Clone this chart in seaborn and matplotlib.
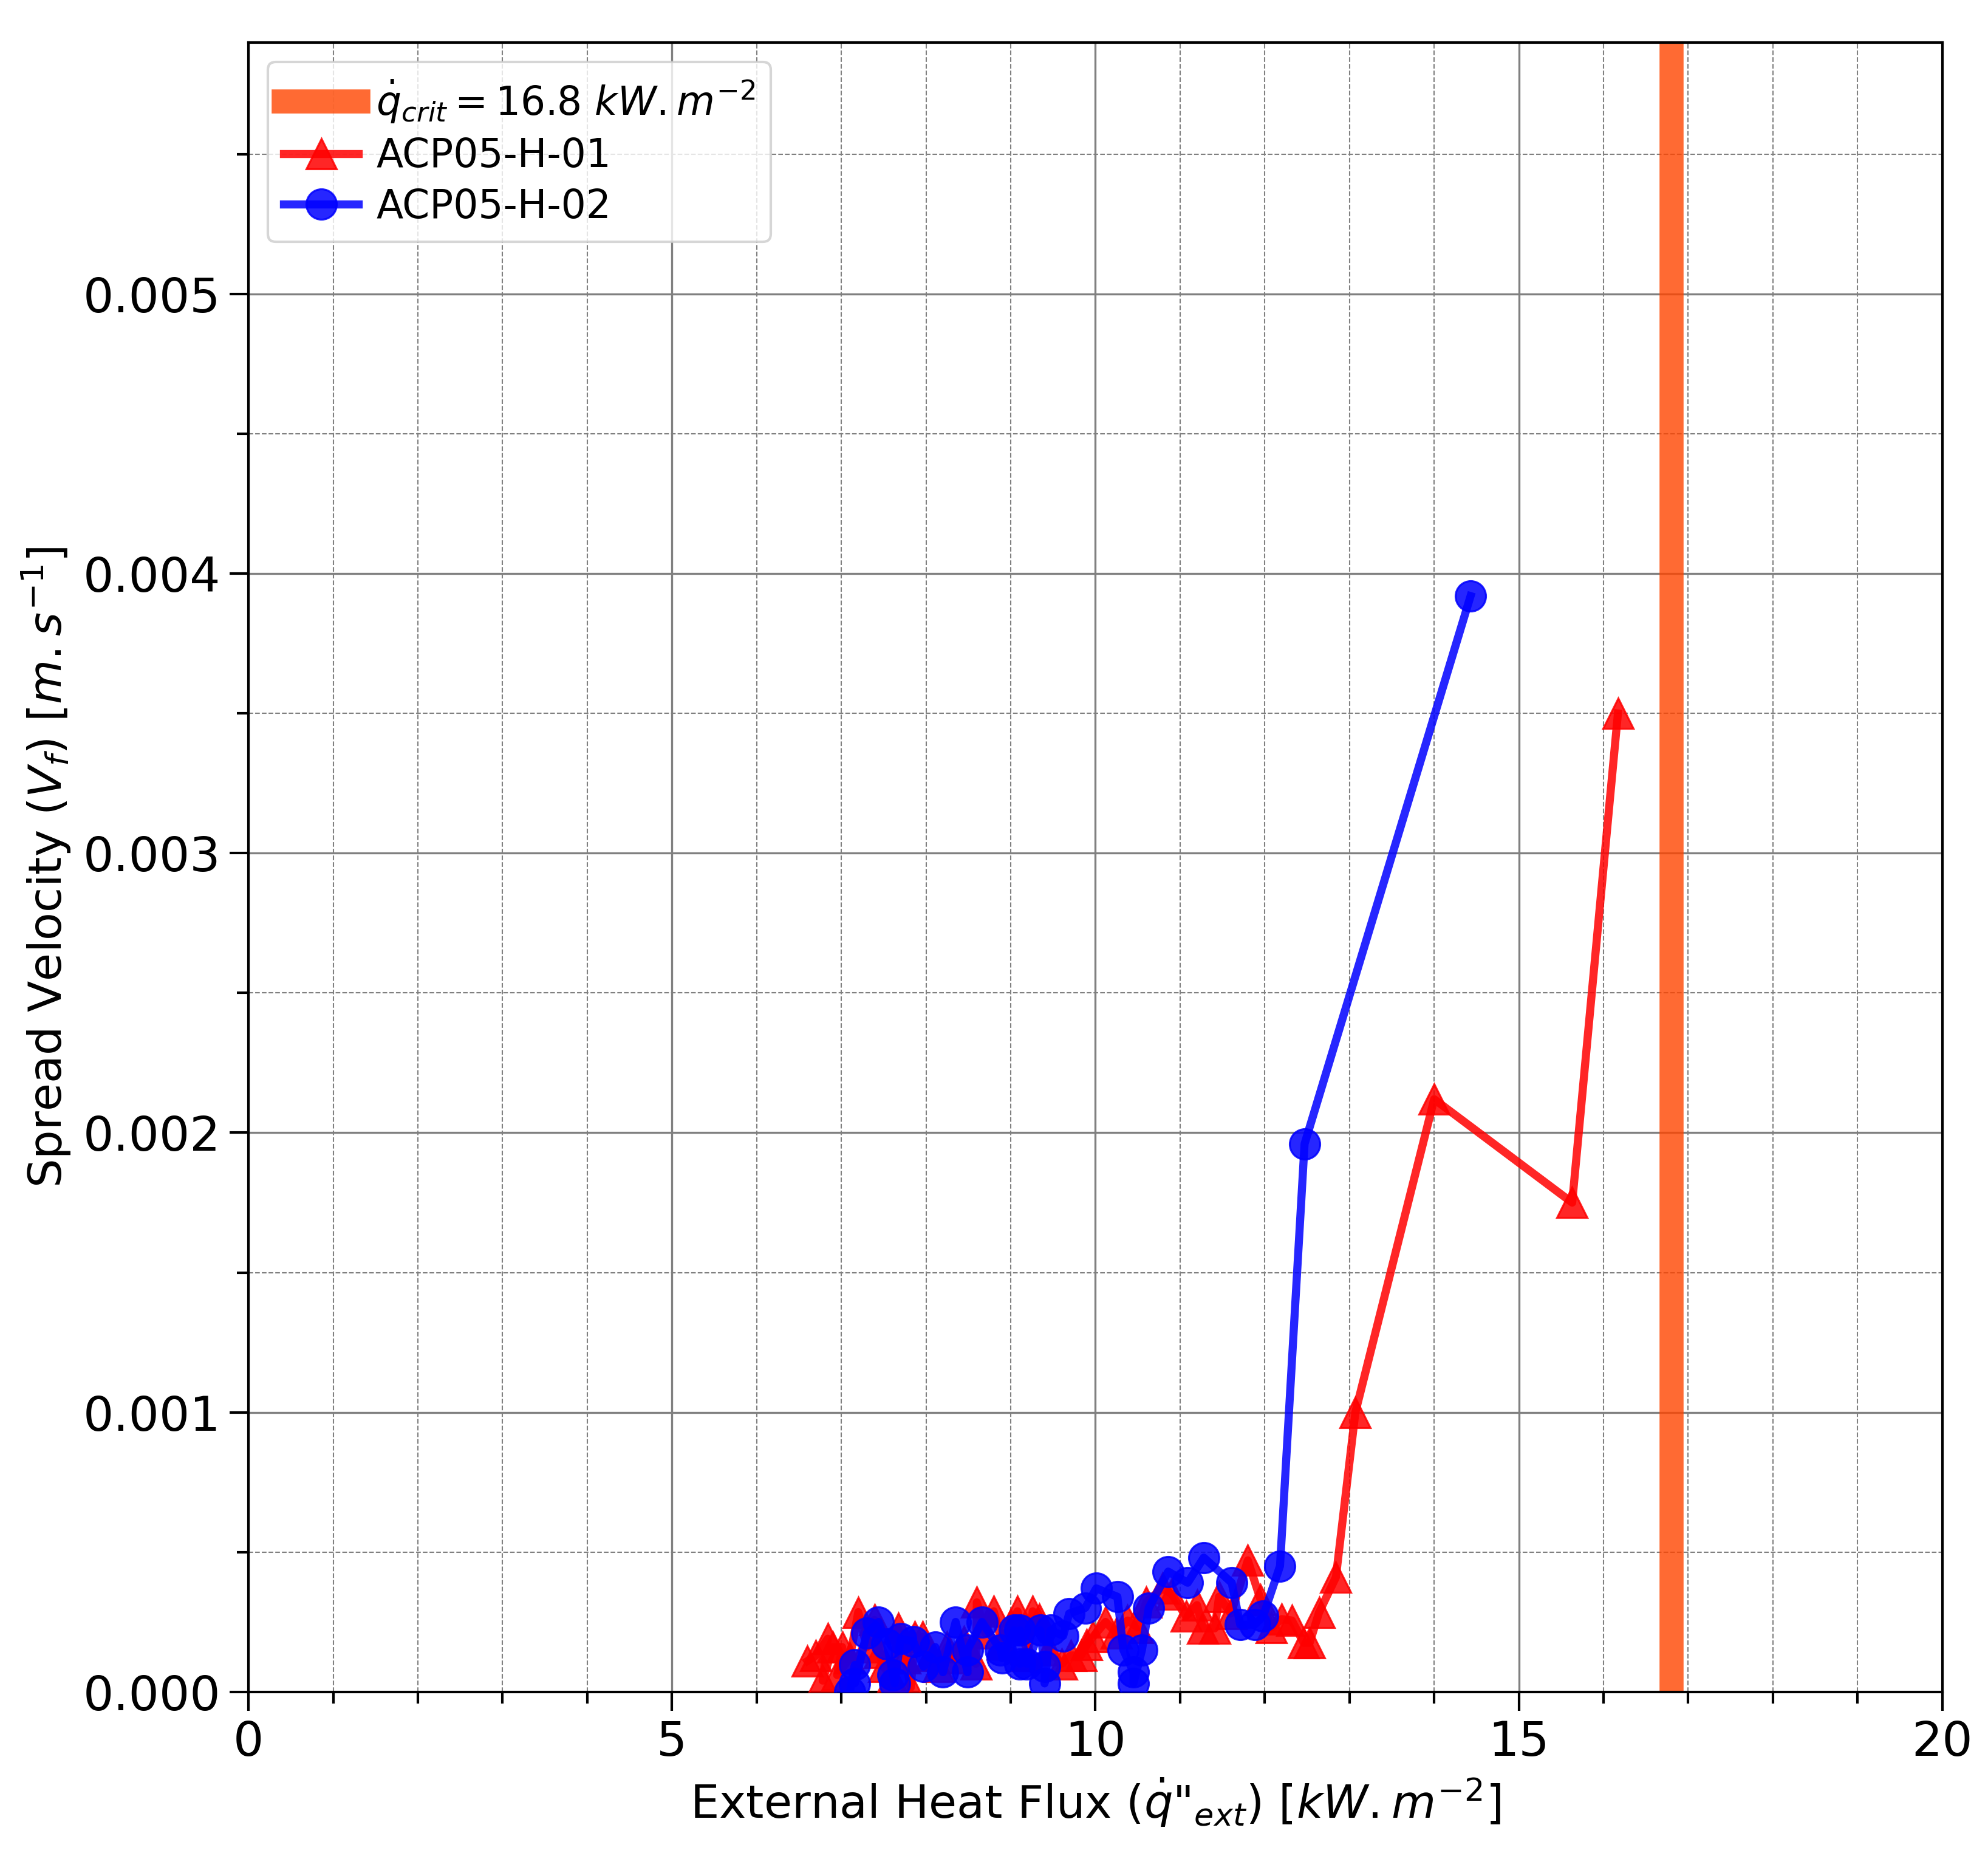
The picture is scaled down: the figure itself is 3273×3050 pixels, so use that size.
import numpy as np
import pandas as pd
import matplotlib
matplotlib.use("Agg")
import matplotlib.pyplot as plt
import seaborn as sns
from matplotlib.ticker import MultipleLocator

# critical heat flux
q_crit = 16.8

# ACP05-H-01 (triangles)
flux_h01 = [6.6, 6.7, 6.84, 6.78, 6.9, 7.01, 6.95, 7.1, 7.2, 7.3, 7.39, 7.45, 7.5, 7.6, 7.67,
            7.75, 7.82, 7.87, 7.96, 8.05, 8.15, 8.25, 8.35, 8.45, 8.59, 8.6, 8.7, 8.8, 8.9,
            9.0, 9.08, 9.2, 9.26, 9.34, 9.45, 9.6, 9.71, 9.83, 9.9, 9.97, 10.12, 10.25,
            10.38, 10.5, 10.6, 10.79, 10.9, 11.07, 11.2, 11.27, 11.41, 11.46, 11.6, 11.8,
            11.95, 12.08, 12.2, 12.32, 12.46, 12.53, 12.64, 12.84, 13.07, 14.0, 15.63, 16.17]
vel_h01 = [0.00011, 0.00013, 0.00019, 0.00004, 0.00016, 0.00016, 0.00006, 0.00012, 0.000285,
           0.00016, 0.000257, 0.00014, 0.00009, 0.00005, 0.000227, 0.00012, 0.000015,
           0.000196, 0.000196, 0.00013, 0.00009, 0.00016, 0.00012, 0.00018, 0.0001, 0.00032,
           0.00021, 0.000288, 0.00017, 0.00024, 0.000288, 0.00013, 0.000288, 0.00026,
           0.00015, 0.0001, 0.00013, 0.00013, 0.000168, 0.000196, 0.00025, 0.00021,
           0.000255, 0.00023, 0.00032, 0.00037, 0.00035, 0.00027, 0.00031, 0.000227,
           0.000227, 0.00034, 0.00028, 0.00047, 0.00033, 0.00023, 0.00026, 0.000255,
           0.000175, 0.000175, 0.000283, 0.00041, 0.001, 0.00212, 0.00175, 0.0035]

# ACP05-H-02 (circles)
flux_h02 = [7.1, 7.16, 7.16, 7.3, 7.44, 7.54, 7.61, 7.63, 7.7, 7.85, 7.97, 8.11, 8.2, 8.35,
            8.49, 8.49, 8.66, 8.88, 8.9, 9.04, 9.11, 9.11, 9.19, 9.35, 9.4, 9.4, 9.47, 9.62,
            9.69, 9.88, 10.01, 10.26, 10.33, 10.45, 10.45, 10.55, 10.63, 10.86, 11.09,
            11.28, 11.61, 11.71, 11.88, 11.98, 12.18, 12.47, 14.43]
vel_h02 = [0.0, 0.000096, 0.00003, 0.00021, 0.00025, 0.00017, 0.00006, 0.00003, 0.00019,
           0.00018, 0.00009, 0.00016, 0.00007, 0.00025, 0.00007, 0.00015, 0.00025, 0.00015,
           0.00012, 0.00022, 0.0001, 0.00022, 0.0001, 0.00022, 0.00009, 0.00003, 0.00022,
           0.0002, 0.00028, 0.0003, 0.00037, 0.00034, 0.00015, 0.00007, 0.00003, 0.00015,
           0.0003, 0.00043, 0.00039, 0.00048, 0.00039, 0.00024, 0.00024, 0.00027, 0.00045,
           0.00196, 0.00392]

df1 = pd.DataFrame({"flux": flux_h01, "vel": vel_h01})
df2 = pd.DataFrame({"flux": flux_h02, "vel": vel_h02})

sns.set_style("ticks")
plt.rcParams['font.family'] = ['DejaVu Sans']
plt.rcParams['mathtext.fontset'] = 'dejavusans'
plt.rcParams['text.color'] = 'black'
plt.rcParams['axes.labelcolor'] = 'black'
plt.rcParams['xtick.color'] = 'black'
plt.rcParams['ytick.color'] = 'black'
plt.rcParams['lines.solid_capstyle'] = 'projecting'

fig, ax = plt.subplots(figsize=(10.91, 10.1667), dpi=300)
fig.subplots_adjust(left=0.125, right=0.977, top=0.977, bottom=0.087)

ax.axvline(q_crit, color='orangered', alpha=0.8, lw=9.5, solid_capstyle='projecting',
           label=r'$\dot{q}_{crit} = 16.8\ kW.m^{-2}$', zorder=1)

sns.lineplot(data=df1, x="flux", y="vel", ax=ax, estimator=None, sort=False,
             color='red', alpha=0.85, lw=3.2, marker='^', markersize=12,
             markeredgecolor='red', label='ACP05-H-01', zorder=3)
sns.lineplot(data=df2, x="flux", y="vel", ax=ax, estimator=None, sort=False,
             color='blue', alpha=0.85, lw=3.2, marker='o', markersize=12,
             markeredgecolor='blue', label='ACP05-H-02', zorder=4)

ax.set_xlim(0, 20)
ax.set_ylim(0, 0.0059)
ax.xaxis.set_major_locator(MultipleLocator(5))
ax.xaxis.set_minor_locator(MultipleLocator(1))
ax.yaxis.set_major_locator(MultipleLocator(0.001))
ax.yaxis.set_minor_locator(MultipleLocator(0.0005))
ax.yaxis.set_major_formatter(matplotlib.ticker.FormatStrFormatter('%.3f'))

ax.grid(which='major', color='gray', linestyle='-', linewidth=0.8)
ax.grid(which='minor', color='gray', linestyle='--', linewidth=0.5)
ax.set_axisbelow(True)

ax.tick_params(which='major', length=7.5, width=1, labelsize=19, direction='out')
ax.tick_params(which='minor', length=4.5, width=1, direction='out')
for s in ax.spines.values():
    s.set_color('black')
    s.set_linewidth(1)

ax.set_xlabel(r'External Heat Flux ($\dot{q}$"$_{ext}$) [$kW.m^{-2}$]', fontsize=18)
ax.set_ylabel(r'Spread Velocity ($V_f$) [$m.s^{-1}$]', fontsize=18)

ax.legend(loc='upper left', fontsize=15.5, framealpha=0.8, handlelength=1.9,
          handletextpad=0.45, labelspacing=0.3)

plt.savefig('out.png', dpi=300)
